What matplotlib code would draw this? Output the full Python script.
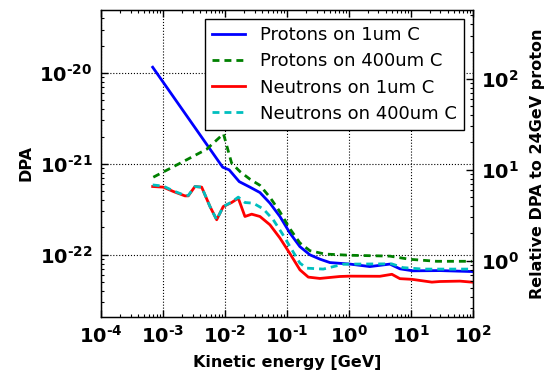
import matplotlib
matplotlib.use("Agg")
import math
import matplotlib.pyplot as plt
from matplotlib.ticker import LogLocator, NullFormatter, FuncFormatter

plt.rcParams['font.family'] = ['DejaVu Sans']
plt.rcParams['axes.unicode_minus'] = False

# ---- data ----
e_p1 = [6.82e-4, 9.18e-3, 1.17e-2, 1.70e-2, 2.53e-2, 3.67e-2, 5.32e-2, 7.71e-2, 0.112, 0.162,
        0.235, 0.340, 0.494, 1.04, 2.18, 4.58, 6.65, 10.8, 29.4, 96.4]
dpa_p1 = [1.156e-20, 9.20e-22, 8.59e-22, 6.38e-22, 5.55e-22, 4.84e-22, 3.70e-22, 2.64e-22, 1.73e-22, 1.23e-22,
          1.00e-22, 8.97e-23, 8.22e-23, 7.91e-23, 7.43e-23, 7.91e-23, 7.02e-23, 6.67e-23, 6.71e-23, 6.55e-23]

e_p400 = [6.98e-4, 2.12e-3, 5.07e-3, 9.46e-3, 1.28e-2, 1.75e-2, 2.53e-2, 3.67e-2, 5.32e-2, 7.71e-2,
          0.112, 0.162, 0.235, 0.410, 1.04, 4.58, 9.64, 26.0, 96.4]
dpa_p400 = [7.14e-22, 1.06e-21, 1.45e-21, 2.14e-21, 1.02e-21, 8.22e-22, 6.79e-22, 5.81e-22, 4.29e-22, 2.97e-22,
            1.93e-22, 1.35e-22, 1.11e-22, 1.02e-22, 9.89e-23, 9.68e-23, 8.93e-23, 8.49e-23, 8.49e-23]

e_n1 = [6.82e-4, 1.01e-3, 1.47e-3, 2.26e-3, 2.56e-3, 3.28e-3, 4.21e-3, 5.73e-3, 7.35e-3, 9.40e-3,
        1.28e-2, 1.64e-2, 2.10e-2, 2.70e-2, 3.67e-2, 5.32e-2, 7.71e-2, 0.112, 0.162, 0.221,
        0.340, 0.716, 1.04, 3.16, 4.94, 6.65, 10.4, 21.8, 29.4, 61.7, 96.4]
dpa_n1 = [5.64e-22, 5.55e-22, 4.97e-22, 4.45e-22, 4.45e-22, 5.64e-22, 5.55e-22, 3.40e-22, 2.43e-22, 3.40e-22,
          3.76e-22, 4.20e-22, 2.64e-22, 2.80e-22, 2.64e-22, 2.14e-22, 1.53e-22, 1.03e-22, 6.84e-23, 5.69e-23,
          5.50e-23, 5.78e-23, 5.83e-23, 5.81e-23, 6.11e-23, 5.47e-23, 5.38e-23, 5.01e-23, 5.09e-23, 5.14e-23, 5.01e-23]

e_n400 = [6.82e-4, 1.01e-3, 1.47e-3, 2.26e-3, 2.56e-3, 3.28e-3, 4.21e-3, 5.73e-3, 7.35e-3, 9.40e-3,
          1.28e-2, 1.64e-2, 2.10e-2, 2.86e-2, 4.15e-2, 6.01e-2, 8.45e-2, 0.118, 0.162, 0.208,
          0.385, 0.80, 1.04, 4.89, 7.43, 15.6, 96.4]
dpa_n400 = [5.87e-22, 5.70e-22, 5.05e-22, 4.50e-22, 4.50e-22, 5.64e-22, 5.55e-22, 3.40e-22, 2.43e-22, 3.40e-22,
            3.80e-22, 4.31e-22, 3.76e-22, 3.70e-22, 3.20e-22, 2.43e-22, 1.70e-22, 1.16e-22, 8.11e-23, 7.14e-23,
            6.97e-23, 7.87e-23, 7.91e-23, 7.96e-23, 7.24e-23, 6.97e-23, 6.97e-23]

labels = ["Protons on 1um C", "Protons on 400um C", "Neutrons on 1um C", "Neutrons on 400um C"]
ref_dpa = 8.6e-23  # DPA of 24 GeV proton

x_lim = (1e-4, 1e2)
y_lim = (2.08e-23, 4.92e-20)


def pow10(v, pos):
    if v <= 0:
        return ''
    n = int(round(math.log10(v)))
    if n < 0:
        exp = '\u2010' + str(-n)
    else:
        exp = str(n)
    return r'$\mathbf{10^{\mathbf{' + exp + '}}}$'


fig = plt.figure(figsize=(5.55, 3.85), dpi=100)
ax = fig.add_axes([0.182, 0.177, 0.670, 0.797])

ax.plot(e_p1, dpa_p1, color='blue', lw=2, label=labels[0])
ax.plot(e_p400, dpa_p400, color='green', lw=2, ls='--', dashes=(2.5, 1.8), label=labels[1])
ax.plot(e_n1, dpa_n1, color='red', lw=2, label=labels[2])
ax.plot(e_n400, dpa_n400, color='c', lw=2, ls='--', dashes=(2.5, 1.8), label=labels[3])

ax.set_xscale('log')
ax.set_yscale('log')
ax.set_xlim(*x_lim)
ax.set_ylim(*y_lim)
ax.grid(True, which='major', color='black', ls=':', lw=0.8)

ax.xaxis.set_major_locator(LogLocator(base=10, numticks=20))
ax.xaxis.set_minor_locator(LogLocator(base=10, subs=range(2, 10), numticks=20))
ax.xaxis.set_minor_formatter(NullFormatter())
ax.xaxis.set_major_formatter(FuncFormatter(pow10))
ax.yaxis.set_major_formatter(FuncFormatter(pow10))
ax.tick_params(which='both', direction='in', top=True, right=False)
ax.tick_params(which='major', length=5, width=1, labelsize=14, pad=6)
ax.tick_params(which='minor', length=2.5, width=0.8)

ax.set_xlabel('Kinetic energy [GeV]', fontsize=11.5, fontweight='bold', labelpad=6)
ax.set_ylabel('DPA', fontsize=11.5, fontweight='bold', labelpad=4)

ax2 = ax.twinx()
ax2.set_yscale('log')
ax2.set_ylim(y_lim[0] / ref_dpa, y_lim[1] / ref_dpa)
ax2.yaxis.set_major_locator(LogLocator(base=10, numticks=20))
ax2.yaxis.set_minor_locator(LogLocator(base=10, subs=range(2, 10), numticks=20))
ax2.yaxis.set_minor_formatter(NullFormatter())
ax2.yaxis.set_major_formatter(FuncFormatter(pow10))
ax2.tick_params(which='both', direction='in')
ax2.tick_params(which='major', length=5, width=1, labelsize=14, pad=6)
ax2.tick_params(which='minor', length=2.5, width=0.8)
ax2.set_ylabel('Relative DPA to 24GeV proton', fontsize=11.5, fontweight='bold', labelpad=8)

leg = ax.legend(loc='upper right', frameon=True, fancybox=False,
                edgecolor='black', framealpha=1, handlelength=1.85, borderaxespad=0.5,
                labelspacing=0.45, prop={'weight': 'normal', 'size': 13})
leg.get_frame().set_linewidth(1.0)

for sp in ax.spines.values():
    sp.set_linewidth(1.0)

fig.savefig('out.png', dpi=100)
